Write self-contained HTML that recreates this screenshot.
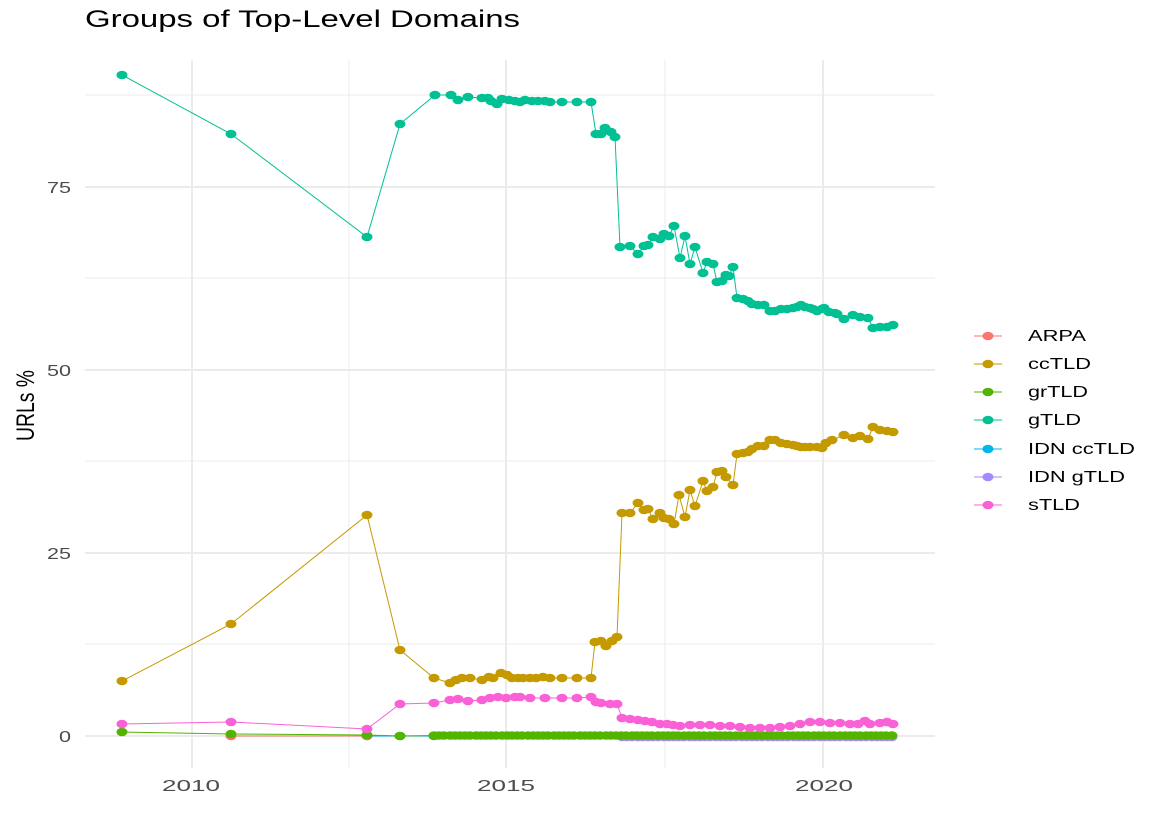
<!DOCTYPE html>
<html><head><meta charset="utf-8"><style>
body{margin:0;background:#fff;font-family:"Liberation Sans",sans-serif}
</style></head><body>
<svg id="s" width="1164" height="827" xmlns="http://www.w3.org/2000/svg" font-family="Liberation Sans, sans-serif">
<rect width="1164" height="827" fill="#fff"/>
<g stroke="#ebebeb" stroke-width="1">
<line x1="85" x2="935" y1="644" y2="644"/><line x1="85" x2="935" y1="461" y2="461"/><line x1="85" x2="935" y1="278" y2="278"/><line x1="85" x2="935" y1="95" y2="95"/>
<line x1="349" x2="349" y1="60" y2="768"/><line x1="665" x2="665" y1="60" y2="768"/>
</g>
<g stroke="#ebebeb" stroke-width="2">
<line x1="85" x2="935" y1="736" y2="736"/><line x1="85" x2="935" y1="553" y2="553"/><line x1="85" x2="935" y1="370" y2="370"/><line x1="85" x2="935" y1="187" y2="187"/>
<line x1="192" x2="192" y1="60" y2="768"/><line x1="506" x2="506" y1="60" y2="768"/><line x1="823" x2="823" y1="60" y2="768"/>
</g>
<g font-size="16" fill="#4d4d4d" lengthAdjust="spacingAndGlyphs">
<text x="47" y="193" textLength="24" lengthAdjust="spacingAndGlyphs">75</text>
<text x="47" y="376" textLength="24" lengthAdjust="spacingAndGlyphs">50</text>
<text x="47" y="559" textLength="24" lengthAdjust="spacingAndGlyphs">25</text>
<text x="59" y="742" textLength="12" lengthAdjust="spacingAndGlyphs">0</text>
<text x="162" y="791" textLength="58" lengthAdjust="spacingAndGlyphs">2010</text>
<text x="477" y="791" textLength="58" lengthAdjust="spacingAndGlyphs">2015</text>
<text x="795" y="791" textLength="58" lengthAdjust="spacingAndGlyphs">2020</text>
</g>
<text x="85" y="27" font-size="24" fill="#000" textLength="435" lengthAdjust="spacingAndGlyphs">Groups of Top-Level Domains</text>
<text transform="translate(34,441) rotate(-90)" font-size="25" fill="#000" textLength="71" lengthAdjust="spacingAndGlyphs">URLs %</text>
<g id="plot"></g>
<g font-size="16" fill="#000">
<text x="1028" y="341" textLength="58" lengthAdjust="spacingAndGlyphs">ARPA</text>
<text x="1028" y="369" textLength="63" lengthAdjust="spacingAndGlyphs">ccTLD</text>
<text x="1028" y="397" textLength="60" lengthAdjust="spacingAndGlyphs">grTLD</text>
<text x="1028" y="425" textLength="53" lengthAdjust="spacingAndGlyphs">gTLD</text>
<text x="1028" y="454" textLength="107" lengthAdjust="spacingAndGlyphs">IDN ccTLD</text>
<text x="1028" y="482" textLength="97" lengthAdjust="spacingAndGlyphs">IDN gTLD</text>
<text x="1028" y="510" textLength="52" lengthAdjust="spacingAndGlyphs">sTLD</text>
</g>
<g id="leg"></g>
</svg>
<script>
var NS="http://www.w3.org/2000/svg",plot=document.getElementById('plot'),leg=document.getElementById('leg');
function P(s){return s.trim().split(/\s+/).map(function(p){return p.split(',').map(Number)})}
var gr=[[122,732],[231,734],[367,735],[400,736]];
for(var x=434;x<=893;x+=5.2)gr.push([Math.round(x),735.5]);
var idg=[];for(var x=622;x<=893;x+=5.2)idg.push([Math.round(x),737]);
var S=[
["#A58AFF",idg],
["#00B6EB",[[367,736],[400,736],[434,736]]],
["#F8766D",[[231,736],[367,736]]],
["#53B400",gr],
["#FB61D7",P("122,724 231,722 367,729 400,704 434,703 450,700 458,699 468,701 482,700 490,698 498,697 506,698 515,697 520,697 530,698 545,698 562,698 577,698 591,697 596,702 601,703 610,704 617,704 622,718 630,719 638,720 645,721 652,722 660,724 667,724 673,725 680,726 690,725 700,725 710,725 720,726 730,726 740,727 750,728 760,728 770,728 780,727 790,726 800,724 810,722 820,722 830,723 840,723 850,724 858,724 865,721 870,724 880,723 887,722 893,724")],
["#C49A00",P("122,681 231,624 367,515 400,650 434,678 450,683 456,680 462,678 470,678 482,680 489,677 493,678 501,673 507,675 512,678 518,678 523,678 530,678 536,678 543,677 550,678 562,678 577,678 591,678 595,642 601,641 606,646 612,641 617,637 622,513 630,513 638,503 644,510 648,509 653,519 660,513 664,518 669,519 674,524 679,495 685,517 690,490 695,506 703,481 707,491 713,487 717,472 722,471 726,477 733,485 737,454 743,453 748,452 752,449 758,446 764,446 770,440 775,440 781,443 787,444 793,445 797,446 801,447 805,447 810,447 817,447 822,448 826,443 832,440 844,435 853,438 860,436 868,439 873,427 880,430 887,431 893,432")],
["#00C094",P("122,75 231,134 367,237 400,124 435,95 451,95 458,100 468,97 482,98 488,98 491,101 497,104 502,99 509,100 515,101 520,102 525,100 532,101 538,101 545,101 550,102 562,102 577,102 591,102 596,134 601,134 605,128 611,132 615,137 620,247 630,246 638,254 644,246 648,245 653,237 660,239 664,234 669,236 674,226 680,258 685,236 690,264 695,247 703,273 707,262 713,264 717,282 722,281 726,275 729,276 733,267 737,298 743,299 748,301 752,304 758,305 764,305 770,311 775,311 781,309 787,309 793,308 797,307 801,305 805,307 810,308 813,309 817,311 822,309 824,308 829,312 835,313 837,314 844,319 853,315 860,317 868,318 873,328 880,327 887,327 893,325")]
];
function dot(g,x,y,c){var e=document.createElementNS(NS,'ellipse');e.setAttribute('cx',x);e.setAttribute('cy',y);e.setAttribute('rx','5.5');e.setAttribute('ry','4.3');e.setAttribute('fill',c);g.appendChild(e);}
S.forEach(function(s){
 var pl=document.createElementNS(NS,'polyline');
 pl.setAttribute('points',s[1].map(function(p){return p.join(',')}).join(' '));
 pl.setAttribute('fill','none');pl.setAttribute('stroke',s[0]);pl.setAttribute('stroke-width','1');
 plot.appendChild(pl);
 s[1].forEach(function(p){dot(plot,p[0],p[1],s[0]);});
});
var lc=["#F8766D","#C49A00","#53B400","#00C094","#00B6EB","#A58AFF","#FB61D7"],ly=[336,364,392,420,449,477,505];
lc.forEach(function(c,i){
 var l=document.createElementNS(NS,'line');l.setAttribute('x1',974);l.setAttribute('x2',1002);l.setAttribute('y1',ly[i]);l.setAttribute('y2',ly[i]);l.setAttribute('stroke',c);leg.appendChild(l);
 dot(leg,988,ly[i],c);
});
</script>
</body></html>
